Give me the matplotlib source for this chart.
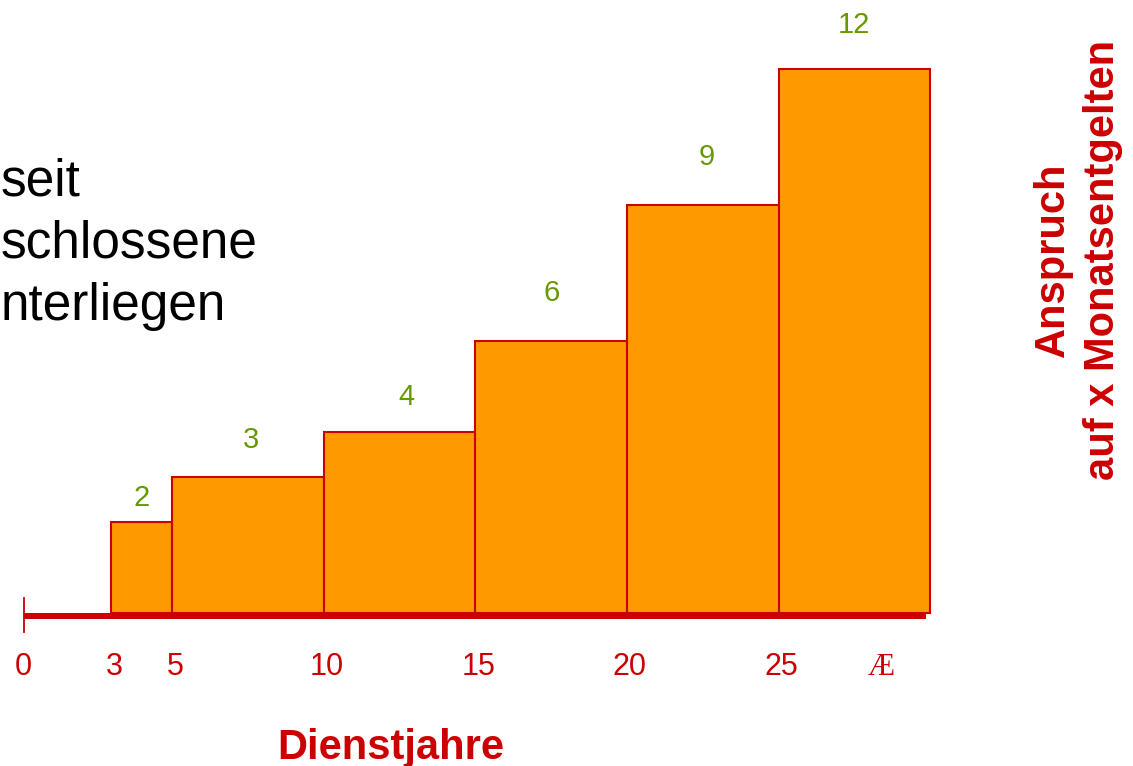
import matplotlib
matplotlib.use("Agg")
import matplotlib.pyplot as plt

# Dienstjahre-Stufen und Anspruch in Monatsentgelten
edges = [3, 5, 10, 15, 20, 25, 30]
months = [2, 3, 4, 6, 9, 12]
tick_vals = [0, 3, 5, 10, 15, 20, 25]
tick_labels = ["0", "3", "5", "10", "15", "20", "25"]
inf_label = "Æ"
inf_pos = 28.4
side_lines = ["seit", "schlossene", "nterliegen"]

red = "#CC0000"
orange = "#FF9900"
green = "#669900"

plt.rcParams['font.family'] = ['Liberation Sans', 'DejaVu Sans']

fig = plt.figure(figsize=(11.33, 7.66), dpi=100)
ax = fig.add_axes([0, 0, 1, 1])
ax.set_xlim(-0.676, 36.69)
ax.set_ylim(-3.375, 13.523)
ax.axis('off')

lefts = edges[:-1]
widths = [b - a for a, b in zip(edges[:-1], edges[1:])]
bars = ax.bar(lefts, months, width=widths, align='edge', color=orange,
              edgecolor=red, linewidth=1.5, zorder=2)

# Werte über den Balken (Abstand in Pixeln, wie im Original leicht versetzt)
label_offsets_px = [24, 37, 35, 48, 48, 44]
label_shift_px = [0, 3, 7, 0, 4, 0]
for rect, val, off, dx in zip(bars, months, label_offsets_px, label_shift_px):
    ax.annotate(str(val), xy=(rect.get_x() + rect.get_width() / 2, rect.get_height()),
                xytext=(dx * 0.72, off * 0.72), textcoords='offset points',
                ha='center', va='center', color=green, fontsize=21)

# Achse
ax.plot([0.1, edges[-1] - 0.15], [-0.06, -0.06], color=red, lw=4.3,
        solid_capstyle='butt', zorder=3)
ax.plot([0.1, 0.1], [0.33, -0.42], color=red, lw=1.3, zorder=3)

for v, s in zip(tick_vals, tick_labels):
    ax.text(v + 0.1, -1.2, s, ha='center', va='center', color=red, fontsize=22)
ax.text(inf_pos, -1.2, inf_label, ha='center', va='center', color=red,
        fontsize=22, family=['Liberation Serif', 'DejaVu Serif'])

ax.text(12.22, -2.98, "Dienstjahre", ha='center', va='center', color=red,
        fontsize=30, fontweight='bold')

fig.text(1078 / 1133, 1 - 260 / 766, "Anspruch\nauf x Monatsentgelten",
         rotation=90, ha='center', va='center', multialignment='center',
         color=red, fontsize=30, fontweight='bold', linespacing=1.3)

for i, line in enumerate(side_lines):
    fig.text(1 / 1133, 1 - (182 + 62.5 * i) / 766, line,
             ha='left', va='center', color='black', fontsize=37)

fig.savefig("out.png", dpi=100)
